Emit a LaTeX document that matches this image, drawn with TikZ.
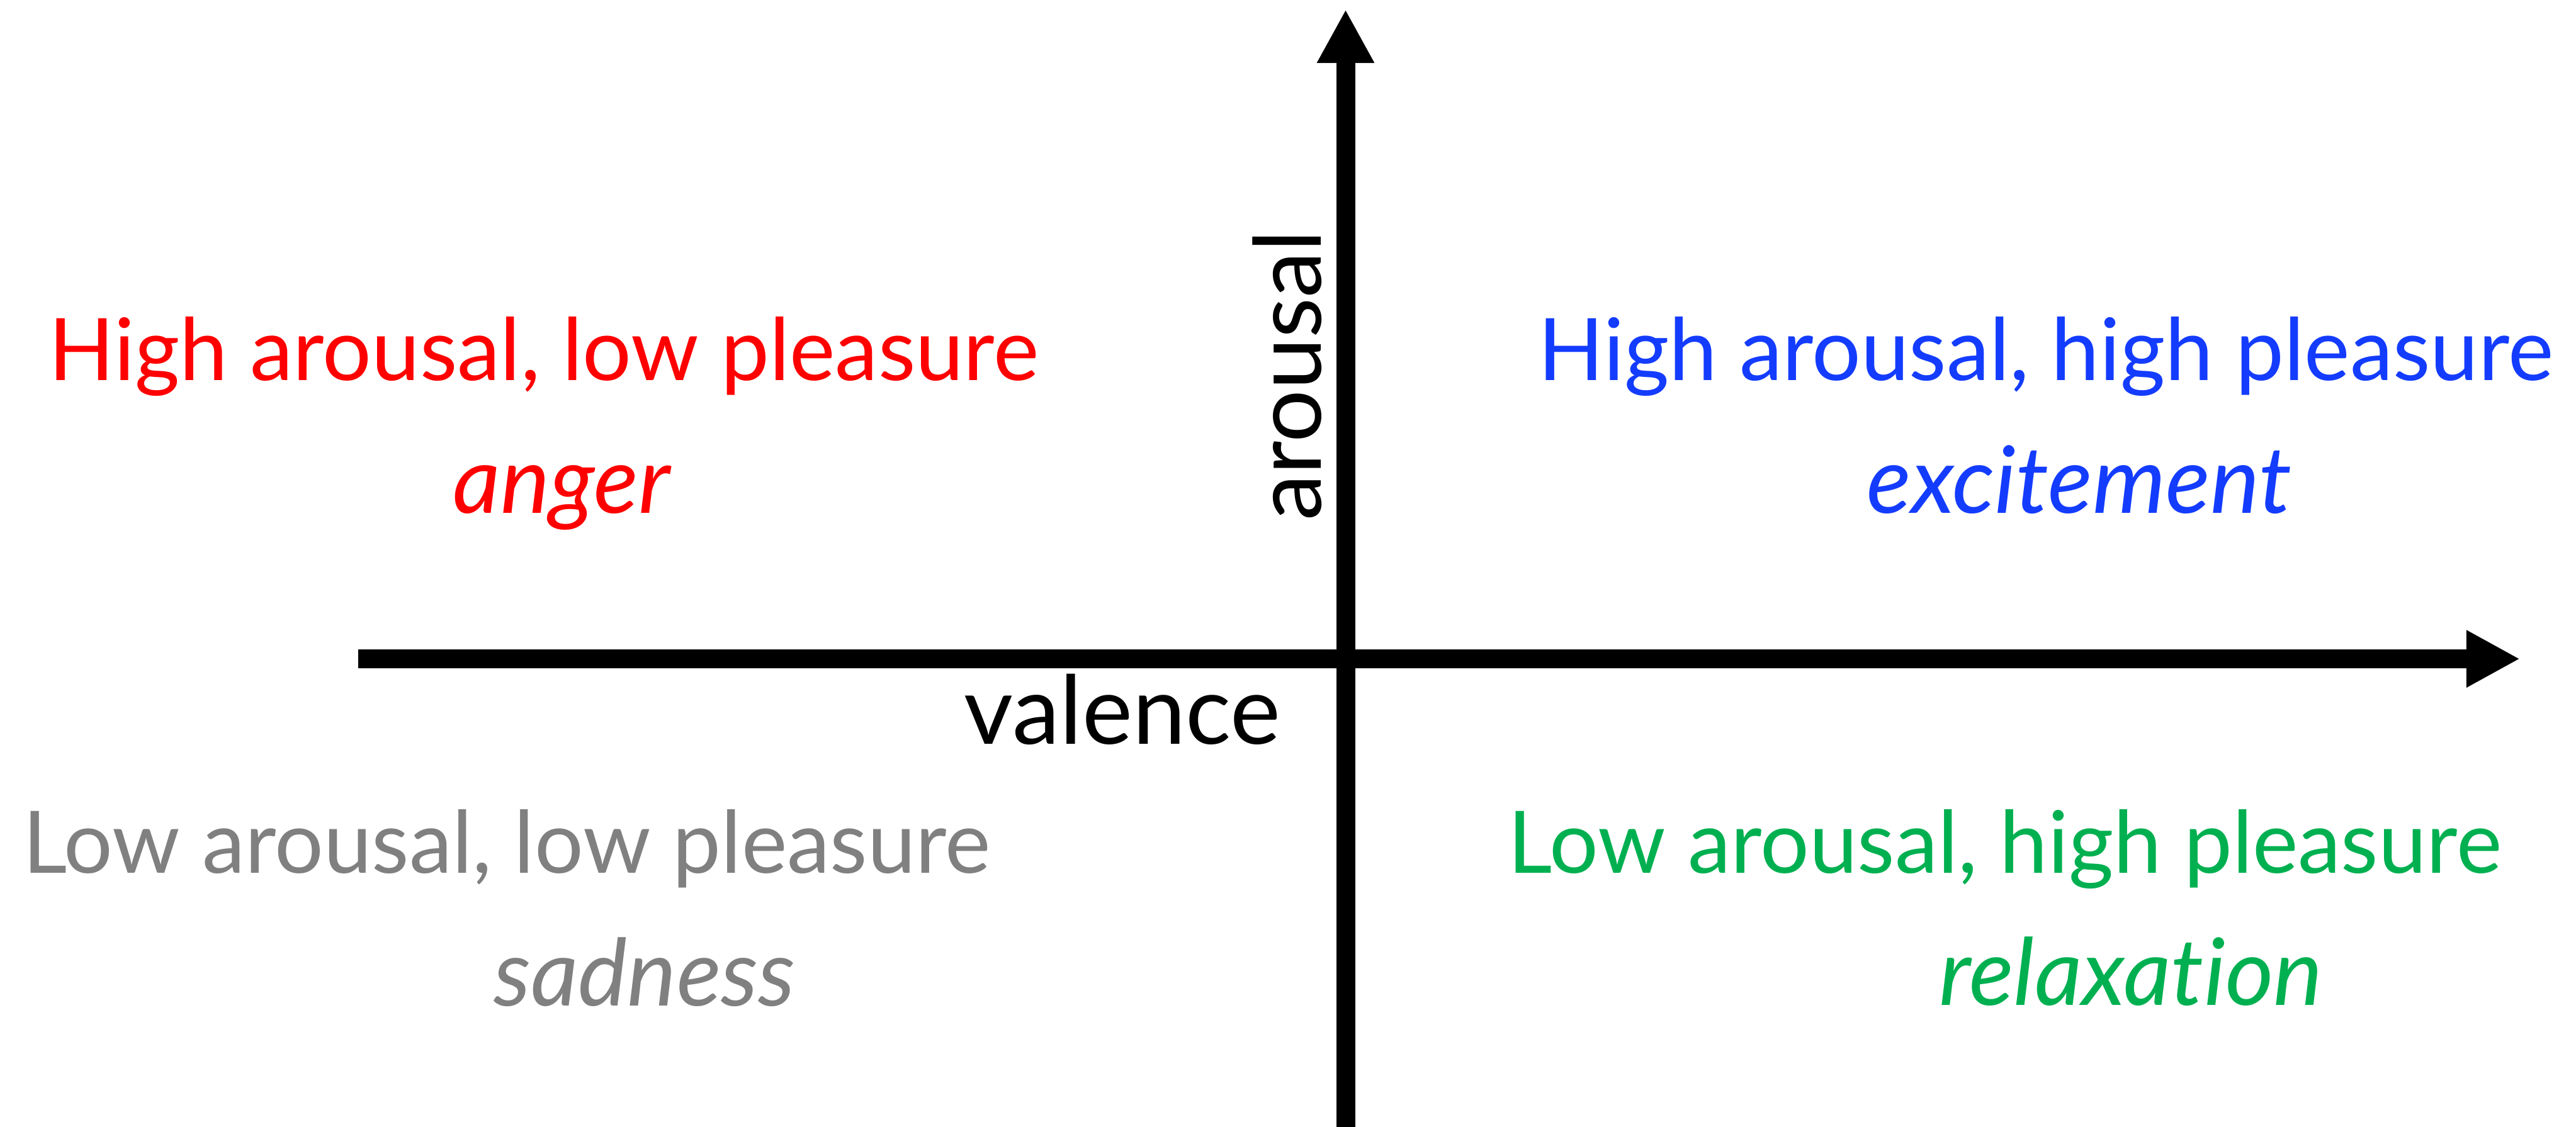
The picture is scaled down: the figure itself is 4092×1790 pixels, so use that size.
\documentclass[tikz,border=0pt]{standalone}
\usepackage{fontspec}
\setmainfont{Lato}[Ligatures={NoCommon}]
\usetikzlibrary{arrows.meta}
\definecolor{qred}{RGB}{255,0,0}
\definecolor{qblue}{RGB}{20,60,255}
\definecolor{qgreen}{RGB}{0,176,80}
\definecolor{qgray}{RGB}{128,128,128}
\tikzset{
  axis/.style={line width=0.3cm, -{Triangle[length=0.85cm,width=0.85cm]}},
  quad/.style={inner sep=0pt, anchor=base, font=\fontsize{39}{41}\selectfont},
  emo/.style={inner sep=0pt, anchor=base, font=\fontsize{42}{44}\selectfont\itshape},
  axlabel/.style={inner sep=0pt, anchor=base, font=\fontsize{43}{45}\selectfont}
}
\begin{document}
\begin{tikzpicture}[x=0.01cm,y=-0.01cm]
\useasboundingbox (0,0) rectangle (4092,1790);
\coordinate (vbot) at (2137.5,1800);
\coordinate (vtop) at (2137.5,15);
\coordinate (hleft) at (569,1047);
\coordinate (hright) at (4003,1047);
\draw[axis] (hleft) -- (hright);
\draw[axis] (vbot) -- (vtop);
\node[axlabel] (valence) at (1783,1182) {valence};
\node[axlabel, rotate=90, font=\fontsize{42}{44}\selectfont] (arousal) at (2098,596.5) {arousal};
\node[quad, text=qred] (halp) at (864,604) {High arousal, low pleasure};
\node[emo, text=qred] (anger) at (892,815) {anger};
\node[quad, text=qblue] (hahp) at (3250,604) {High arousal, high pleasure};
\node[emo, text=qblue] (excitement) at (3303,815) {excitement};
\node[quad, text=qgray] (lalp) at (805,1387) {Low arousal, low pleasure};
\node[emo, text=qgray] (sadness) at (1024,1598) {sadness};
\node[quad, text=qgreen] (lahp) at (3185,1387) {Low arousal, high pleasure};
\node[emo, text=qgreen] (relaxation) at (3385,1597) {relaxation};
\end{tikzpicture}
\end{document}
